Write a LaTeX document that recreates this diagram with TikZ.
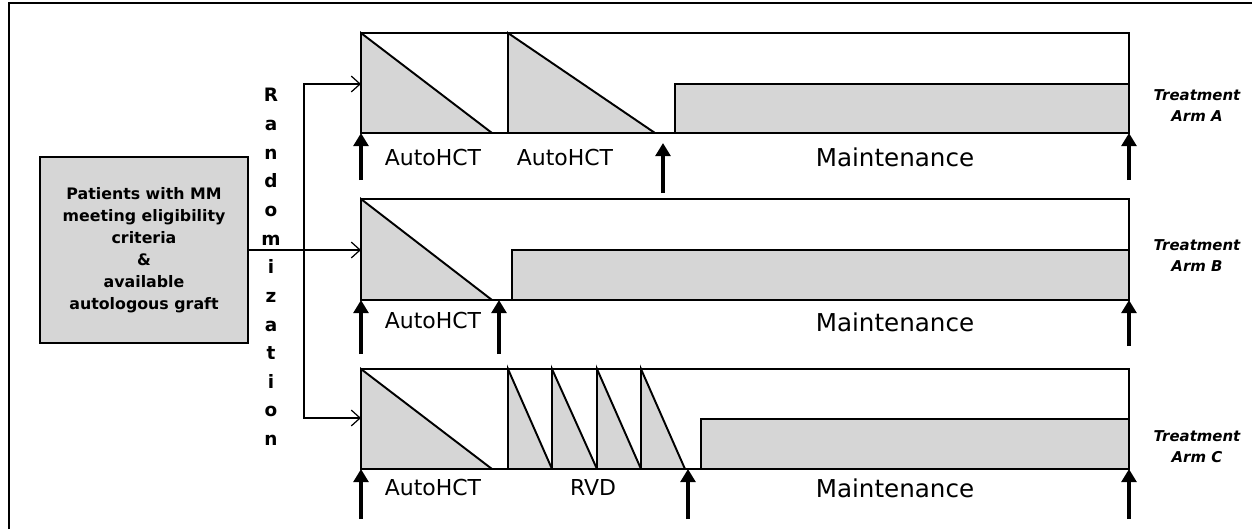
\documentclass[tikz,border=0pt]{standalone}
\usepackage{fontspec}
\setmainfont{DejaVu Sans}
\usetikzlibrary{calc, arrows.meta}

\definecolor{shade}{RGB}{214,214,214}

\begin{document}
\begin{tikzpicture}[x=0.02cm, y=-0.02cm,
    armbox/.style={draw, line width=1.1pt},
    dose/.style={fill=shade, draw, line width=1.1pt, line join=miter},
    marker/.style={line width=2.4pt, -{Triangle[length=7.5pt,width=8.5pt]}},
    entry/.style={line width=0.7pt, {Straight Barb[length=5pt,width=9pt]}-{Straight Barb[length=5pt,width=9pt]}},
    phase/.style={font=\fontsize{12.5}{15}\selectfont},
    mainlabel/.style={font=\fontsize{14}{16}\selectfont},
    armlabel/.style={font=\fontsize{8.5}{12}\selectfont\bfseries\itshape, align=center}]
  \useasboundingbox (0,0) rectangle (1252,529);

  % Frame
  \draw[line width=1.6pt] (9,529) -- (9,3) -- (1252,3);

  % Patients and randomization
  \node[draw, line width=1.1pt, fill=shade, minimum width=4.16cm, minimum height=3.72cm,
        align=center, font=\fontsize{9}{12.5}\selectfont\bfseries] (pat) at (144,250)
        {Patients with MM\\meeting eligibility\\criteria\\\&\\available\\autologous graft};
  \node[align=center, font=\fontsize{10.5}{16.3}\selectfont\bfseries] (rand) at (271,267)
        {R\\a\\n\\d\\o\\m\\i\\z\\a\\t\\i\\o\\n};

  % Define points
  \coordinate (inA) at (361,84);
  \coordinate (inB) at (361,250);
  \coordinate (inC) at (361,418);
  \coordinate (splitA) at (304,84);
  \coordinate (splitC) at (304,418);

  \draw[entry] (inA) -- (splitA) -- (splitC) -- (inC);
  \draw[line width=0.7pt, -{Straight Barb[length=5pt,width=9pt]}] (pat.east |- inB) -- (inB);

  % Treatment arm A
  \draw[dose] (361,33) -- (492,133) -- (361,133) -- cycle;
  \draw[dose] (508,33) -- (655,133) -- (508,133) -- cycle;
  \draw[dose] (675,84) rectangle (1129,133);
  \draw[armbox] (361,33) rectangle (1129,133);
  \draw[marker] (361,180) -- (361,133);
  \draw[marker] (663,193) -- (663,143);
  \draw[marker] (1129,180) -- (1129,133);
  \node[phase] (autoA1) at (433,157) {AutoHCT};
  \node[phase] (autoA2) at (565,157) {AutoHCT};
  \node[mainlabel] (mainA) at (895,157) {Maintenance};
  \node[armlabel] (armA) at (1197,106) {Treatment\\Arm A};

  % Treatment arm B
  \draw[dose] (361,199) -- (492,300) -- (361,300) -- cycle;
  \draw[dose] (512,250) rectangle (1129,300);
  \draw[armbox] (361,199) rectangle (1129,300);
  \draw[marker] (361,354) -- (361,300);
  \draw[marker] (499,354) -- (499,300);
  \draw[marker] (1129,346) -- (1129,300);
  \node[phase] (autoB) at (433,320) {AutoHCT};
  \node[mainlabel] (mainB) at (895,322) {Maintenance};
  \node[armlabel] (armB) at (1197,256) {Treatment\\Arm B};

  % Treatment arm C
  \draw[dose] (361,369) -- (492,469) -- (361,469) -- cycle;
  \draw[dose] (508,369) -- (552,469) -- (508,469) -- cycle;
  \draw[dose] (552,369) -- (597,469) -- (552,469) -- cycle;
  \draw[dose] (597,369) -- (641,469) -- (597,469) -- cycle;
  \draw[dose] (641,369) -- (685,469) -- (641,469) -- cycle;
  \draw[dose] (701,419) rectangle (1129,469);
  \draw[armbox] (361,369) rectangle (1129,469);
  \draw[marker] (361,519) -- (361,469);
  \draw[marker] (688,519) -- (688,469);
  \draw[marker] (1129,519) -- (1129,469);
  \node[phase] (autoC) at (433,487) {AutoHCT};
  \node[phase] (rvd) at (593,487) {RVD};
  \node[mainlabel] (mainC) at (895,488) {Maintenance};
  \node[armlabel] (armC) at (1197,447) {Treatment\\Arm C};

\end{tikzpicture}
\end{document}
